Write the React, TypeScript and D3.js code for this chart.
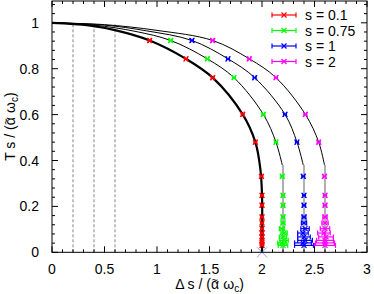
import React from "react";
import * as d3 from "d3";

const W = 374, H = 294;
const X0 = 52, X1 = 367, Y0 = 252.3, Y1 = 1;

const xTicks = [0, 0.5, 1, 1.5, 2, 2.5, 3];
const yTicks = [0, 0.2, 0.4, 0.6, 0.8, 1];
const xMinor = d3.range(0, 3.0001, 0.1);
const yMinor = d3.range(0, 1.09, 0.04);

const dashedX = [0.2, 0.4, 0.6];

const seriesNames = ["s = 0.1", "s = 0.75", "s = 1", "s = 2"];
const seriesColors = ["#ff0000", "#00ff00", "#0000ff", "#ff00ff"];

const T = [0.923, 0.843, 0.761, 0.601, 0.48, 0.331, 0.248, 0.205, 0.154, 0.128, 0.103, 0.084, 0.067, 0.052, 0.041, 0.03];
const redX = [0.93, 1.276, 1.53, 1.816, 1.937, 1.995, 2.0, 2.0, 2.0, 2.0, 2.0, 2.0, 2.0, 2.0, 2.0, 2.0];
const greenX = [1.13, 1.479, 1.733, 2.013, 2.133, 2.193, 2.2, 2.2, 2.2, 2.2, 2.19, 2.21, 2.2, 2.21, 2.19, 2.2];
const blueX = [1.333, 1.676, 1.93, 2.219, 2.333, 2.393, 2.4, 2.4, 2.4, 2.4, 2.41, 2.39, 2.4, 2.41, 2.39, 2.4];
const magX = [1.53, 1.879, 2.133, 2.413, 2.54, 2.595, 2.6, 2.6, 2.6, 2.6, 2.6, 2.59, 2.61, 2.6, 2.6, 2.6];

const redErr = [0.014, 0.014, 0.014, 0.014, 0.014, 0.014, 0.014, 0.014, 0.014, 0.014, 0.014, 0.014, 0.014, 0.014, 0.014, 0.014];
const greenErr = [0.014, 0.014, 0.014, 0.014, 0.014, 0.014, 0.014, 0.014, 0.015, 0.018, 0.025, 0.03, 0.035, 0.04, 0.04, 0.045];
const blueErr = [0.014, 0.014, 0.014, 0.014, 0.014, 0.014, 0.014, 0.015, 0.018, 0.025, 0.04, 0.05, 0.06, 0.07, 0.08, 0.09];
const magErr = [0.014, 0.014, 0.014, 0.014, 0.014, 0.014, 0.014, 0.015, 0.02, 0.03, 0.045, 0.06, 0.07, 0.08, 0.09, 0.1];

// theory curves (Δ, T)
const curveRed: [number, number][] = [[0, 1], [0.35, 0.989], [0.6, 0.968], [0.93, 0.923], [1.276, 0.843], [1.53, 0.761], [1.816, 0.601], [1.937, 0.48], [1.985, 0.36], [2.0, 0.25], [2.0, 0]];
const curveGreen: [number, number][] = [[0, 1], [0.4, 0.99], [0.8, 0.962], [1.13, 0.923], [1.479, 0.843], [1.733, 0.761], [2.013, 0.601], [2.133, 0.48], [2.193, 0.38]];
const curveBlue: [number, number][] = [[0, 1], [0.5, 0.99], [0.9, 0.965], [1.333, 0.923], [1.676, 0.843], [1.93, 0.761], [2.219, 0.601], [2.333, 0.48], [2.393, 0.38]];
const curveMag: [number, number][] = [[0, 1], [0.5, 0.992], [1.0, 0.967], [1.53, 0.923], [1.879, 0.843], [2.133, 0.761], [2.413, 0.601], [2.54, 0.48], [2.595, 0.38]];
const grayX = [2.2, 2.4, 2.6];
const grayTop = 0.38;
const crossPoint: [number, number] = [2, 0];

const FONT = "'Liberation Sans', Arial, sans-serif";

function LabelTail() {
  return (
    <>
      <tspan fontSize={11} dx={-7.6} dy={-5}>~</tspan>
      <tspan dx={1.5} dy={5}> ω</tspan>
      <tspan fontSize={10} dy={3}>c</tspan>
      <tspan dy={-3}>)</tspan>
    </>
  );
}

export default function App() {
  const x = d3.scaleLinear().domain([0, 3]).range([X0, X1]);
  const y = d3.scaleLinear().domain([0, 1.095]).range([Y0, Y1]);
  const line = d3.line<[number, number]>().x(d => x(d[0])).y(d => y(d[1])).curve(d3.curveCatmullRom.alpha(0.5));

  const seriesX = [redX, greenX, blueX, magX];
  const seriesErr = [redErr, greenErr, blueErr, magErr];
  const thin = [curveGreen, curveBlue, curveMag];

  const marker = (cx: number, cy: number, ex0: number, ex1: number, color: string, key: string) => (
    <g key={key} stroke={color} strokeWidth={1.2} fill="none">
      <line x1={ex0} y1={cy} x2={ex1} y2={cy} />
      <line x1={ex0} y1={cy - 2.5} x2={ex0} y2={cy + 2.5} />
      <line x1={ex1} y1={cy - 2.5} x2={ex1} y2={cy + 2.5} />
      <line x1={cx - 2.5} y1={cy - 2.5} x2={cx + 2.5} y2={cy + 2.5} />
      <line x1={cx - 2.5} y1={cy + 2.5} x2={cx + 2.5} y2={cy - 2.5} />
    </g>
  );

  return (
    <svg width={W} height={H} style={{ position: "absolute", left: 0, top: 0, background: "#fff" }} fontFamily={FONT}>
      <rect x={0} y={0} width={W} height={H} fill="#fff" />
      {dashedX.map((d, i) => (
        <line key={"dl" + i} x1={x(d)} x2={x(d)} y1={y(0)} y2={y(0.995)} stroke="#666" strokeWidth={0.8} strokeDasharray="3,2" />
      ))}
      {grayX.map((d, i) => (
        <line key={"g" + i} x1={x(d)} x2={x(d)} y1={y(0)} y2={y(grayTop)} stroke="#a8a8a8" strokeWidth={1.8} />
      ))}
      {thin.map((c, i) => (
        <path key={"c" + i} d={line(c) || ""} fill="none" stroke="#000" strokeWidth={1} />
      ))}
      <path d={line(curveRed) || ""} fill="none" stroke="#000" strokeWidth={2.2} />
      {seriesX.map((xs, si) =>
        xs.map((v, i) => {
          const e = seriesErr[si][i];
          return marker(x(v), y(T[i]), x(v - e), x(v + e), seriesColors[si], `m${si}-${i}`);
        })
      )}
      <g stroke="#9a9cf0" strokeWidth={1}>
        <line x1={x(crossPoint[0]) - 5} y1={y(crossPoint[1]) - 5} x2={x(crossPoint[0]) + 5} y2={y(crossPoint[1]) + 5} />
        <line x1={x(crossPoint[0]) - 5} y1={y(crossPoint[1]) + 5} x2={x(crossPoint[0]) + 5} y2={y(crossPoint[1]) - 5} />
      </g>
      <rect x={X0} y={Y1} width={X1 - X0} height={Y0 - Y1} fill="none" stroke="#000" strokeWidth={1} />
      <g stroke="#000" strokeWidth={1}>
        {xMinor.map((t, i) => {
          const major = Math.abs(t * 2 - Math.round(t * 2)) < 1e-6;
          const L = major ? 6 : 3;
          return (
            <g key={"xt" + i}>
              <line x1={x(t)} x2={x(t)} y1={Y0} y2={Y0 - L} />
              <line x1={x(t)} x2={x(t)} y1={Y1} y2={Y1 + L} />
            </g>
          );
        })}
        {yMinor.map((t, i) => {
          const major = Math.abs(t * 5 - Math.round(t * 5)) < 1e-6;
          const L = major ? 6 : 3;
          return (
            <g key={"yt" + i}>
              <line x1={X0} x2={X0 + L} y1={y(t)} y2={y(t)} />
              <line x1={X1} x2={X1 - L} y1={y(t)} y2={y(t)} />
            </g>
          );
        })}
      </g>
      {xTicks.map((t, i) => (
        <text key={"xl" + i} x={x(t)} y={274} textAnchor="middle" fontSize={14} fill="#000">{String(t)}</text>
      ))}
      {yTicks.map((t, i) => (
        <text key={"yl" + i} x={39} y={y(t) + 5} textAnchor="end" fontSize={14} fill="#000">{String(t)}</text>
      ))}
      <text x={(X0 + X1) / 2} y={289} textAnchor="middle" fontSize={14} fill="#000">
        Δ s / (α<LabelTail />
      </text>
      <text transform={`translate(14.5,${(Y0 + Y1) / 2}) rotate(-90)`} textAnchor="middle" fontSize={14} fill="#000">
        T s / (α<LabelTail />
      </text>
      {seriesNames.map((n, i) => {
        const ly = 15 + i * 15.5;
        const c = seriesColors[i];
        return (
          <g key={"lg" + i}>
            <g stroke={c} strokeWidth={1.2}>
              <line x1={272} x2={296} y1={ly} y2={ly} />
              <line x1={272} x2={272} y1={ly - 2.5} y2={ly + 2.5} />
              <line x1={296} x2={296} y1={ly - 2.5} y2={ly + 2.5} />
              <line x1={281.5} x2={286.5} y1={ly - 2.5} y2={ly + 2.5} />
              <line x1={281.5} x2={286.5} y1={ly + 2.5} y2={ly - 2.5} />
            </g>
            <text x={305} y={ly + 5} fontSize={14} fill="#000">{n}</text>
          </g>
        );
      })}
    </svg>
  );
}
